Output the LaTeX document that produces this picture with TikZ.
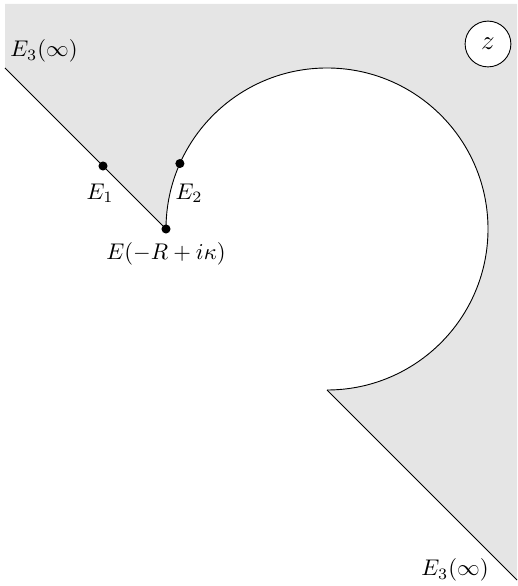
\documentclass[tikz,border=0pt]{standalone}
\usepackage{amsmath}
\usepackage{amssymb}
\usetikzlibrary{calc}
\tikzset{
  cpfill/.style={fill=gray!20, draw=none},
  cpline/.style={draw=black, thin},
  cpdot/.style={circle, fill=black, inner sep=0pt, minimum size=4pt},
  cplabel/.style={inner sep=1pt},
  cptag/.style={circle, draw=black, fill=white, minimum size=0.71cm, inner sep=0pt, font=\large},
}

\begin{document}
\begin{tikzpicture}[x=0.0155cm, y=0.0155cm]
  \useasboundingbox (0,0) rectangle (517,586);
  \coordinate (ctr) at (327,357);
  \coordinate (v)   at (166,357);
  \coordinate (tl)  at (5,518);
  \coordinate (b)   at (327,196);
  \coordinate (br)  at (517,6);
  \coordinate (e1)  at (103,420);
  \coordinate (e2)  at ($(ctr)+(156:161)$);
  % shaded region
  \fill[cpfill] (tl) -- (5,582) -- (517,582) -- (517,0) -- (br) -- (b)
    arc[start angle=-90, end angle=180, radius=161] -- cycle;
  % boundary
  \draw[cpline] (tl) -- (v);
  \draw[cpline] (b) arc[start angle=-90, end angle=180, radius=161];
  \draw[cpline] (b) -- (br);
  \node (pv) [cpdot] at (v)  {};
  \node (p1) [cpdot] at (e1) {};
  \node (p2) [cpdot] at (e2) {};
  \node (l3a) [cplabel] at (44,535) {$E_3(\infty)$};
  \node (l1)  [cplabel] at (100,393) {$E_1$};
  \node (l2)  [cplabel] at (189,393) {$E_2$};
  \node (lv)  [cplabel] at (166,332) {$E(-R+i\kappa)$};
  \node (l3b) [cplabel] at (455,16) {$E_3(\infty)$};
  \node (zt)  [cptag] at (488,542) {$z$};
\end{tikzpicture}
\end{document}
